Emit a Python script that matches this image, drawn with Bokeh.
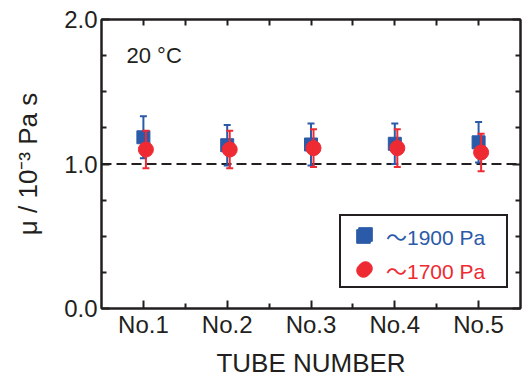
from bokeh.plotting import figure
from bokeh.models import (Range1d, FixedTicker, LinearAxis, Span, Label, Legend,
                          LegendItem, ColumnDataSource)
from bokeh.transform import dodge
from bokeh.embed import file_html
from bokeh.resources import INLINE

# ---- data ----
tubes = [1, 2, 3, 4, 5]
tube_labels = ["No.1", "No.2", "No.3", "No.4", "No.5"]
blue_mu = [1.185, 1.13, 1.135, 1.14, 1.15]
blue_err = [0.145, 0.14, 0.145, 0.14, 0.14]
red_mu = [1.10, 1.10, 1.11, 1.11, 1.08]
red_err = [0.13, 0.13, 0.13, 0.13, 0.13]
y_major = [0, 1, 2]
y_labels = ["0.0", "1.0", "2.0"]
y_minor = [0.25, 0.5, 0.75, 1.25, 1.5, 1.75]
x_minor = [1.5, 2.5, 3.5, 4.5]
ref_level = 1.0

BLUE = "#2b5aa8"
RED = "#ee2a33"
INK = "#231f20"
FONT = "Liberation Sans"
LFONT = "Liberation Sans, Noto Sans CJK JP"

blue_src = ColumnDataSource(dict(x=tubes, y=blue_mu,
                                 lo=[m - e for m, e in zip(blue_mu, blue_err)],
                                 hi=[m + e for m, e in zip(blue_mu, blue_err)]))
red_src = ColumnDataSource(dict(x=tubes, y=red_mu,
                                lo=[m - e for m, e in zip(red_mu, red_err)],
                                hi=[m + e for m, e in zip(red_mu, red_err)]))

p = figure(frame_width=419, frame_height=289, output_backend="svg", toolbar_location=None,
           x_range=Range1d(0.5, 5.5), y_range=Range1d(0, 2),
           min_border_left=101, min_border_right=2, min_border_top=19, min_border_bottom=68)
p.grid.visible = False
p.outline_line_color = INK
p.outline_line_width = 2
p.outline_line_alpha = 1
p.background_fill_color = "white"
p.border_fill_color = "white"

def style_axis(ax):
    ax.axis_line_color = INK
    ax.axis_line_width = 2
    ax.major_tick_line_color = INK
    ax.minor_tick_line_color = INK
    ax.major_tick_line_width = 2
    ax.minor_tick_line_width = 2
    ax.major_tick_in = 8
    ax.major_tick_out = 0
    ax.minor_tick_in = 5
    ax.minor_tick_out = 0
    ax.major_label_text_font = FONT
    ax.major_label_text_font_size = "24px"
    ax.major_label_text_color = INK
    ax.axis_label_text_font = FONT
    ax.axis_label_text_font_size = "26px"
    ax.axis_label_text_font_style = "normal"
    ax.axis_label_text_color = INK

xt = FixedTicker(ticks=tubes, minor_ticks=x_minor)
yt = FixedTicker(ticks=y_major, minor_ticks=y_minor)

xa = p.xaxis[0]
xa.ticker = xt
xa.major_label_overrides = {t: l for t, l in zip(tubes, tube_labels)}
xa.axis_label = "TUBE NUMBER"
style_axis(xa)
xa.major_label_standoff = 2
xa.axis_label_standoff = 7

ya = p.yaxis[0]
ya.ticker = yt
ya.major_label_overrides = {t: l for t, l in zip(y_major, y_labels)}
ya.axis_label = "μ / 10⁻³ Pa s"
style_axis(ya)
ya.major_label_standoff = 4
ya.axis_label_standoff = 18

top = LinearAxis(ticker=xt)
style_axis(top)
top.major_label_overrides = {t: "" for t in tubes}
top.major_label_standoff = 0
top.minor_tick_in = 6
top.major_tick_in = 6
p.add_layout(top, "above")

right = LinearAxis(ticker=yt)
style_axis(right)
right.major_label_overrides = {t: "" for t in y_major}
right.major_label_standoff = 0
p.add_layout(right, "right")

# reference dashed line
p.add_layout(Span(location=ref_level, dimension="width", line_color=INK,
                  line_width=2, line_dash="10 5", level="underlay"))

# blue series
sq = p.scatter("x", "y", source=blue_src, marker="square", size=13,
               fill_color=BLUE, line_color=BLUE)
p.segment(x0="x", y0="lo", x1="x", y1="hi", source=blue_src, line_color=BLUE, line_width=2)
p.scatter("x", "hi", source=blue_src, marker="dash", size=7, line_color=BLUE, line_width=2)
p.scatter("x", "lo", source=blue_src, marker="dash", size=7, line_color=BLUE, line_width=2)

# red series (slightly dodged)
rx = dodge("x", 0.03, range=p.x_range)
ci = p.scatter(rx, "y", source=red_src, marker="circle", size=15,
               fill_color=RED, line_color=RED)
p.segment(x0=rx, y0="lo", x1=rx, y1="hi", source=red_src, line_color=RED, line_width=2)
p.scatter(rx, "hi", source=red_src, marker="dash", size=7, line_color=RED, line_width=2)
p.scatter(rx, "lo", source=red_src, marker="dash", size=7, line_color=RED, line_width=2)

p.add_layout(Label(x=25, y=253, x_units="screen", y_units="screen", text="20 °C",
                   text_font=FONT, text_font_size="22px", text_color=INK,
                   text_baseline="alphabetic"))

# legend: one bordered box, with coloured labels overlaid per row
common = dict(glyph_width=46, glyph_height=34, label_height=34, spacing=0, padding=1,
              label_standoff=0, label_width=117, label_text_font=LFONT,
              label_text_font_size="21px", margin=0)
lx, ly = 238, 20
labA = "～1900 Pa"
labB = "～1700 Pa"
legA = Legend(items=[LegendItem(label=" ", renderers=[sq]),
                     LegendItem(label=" ", renderers=[ci])],
              location=(lx, ly), border_line_color=INK, border_line_width=2,
              border_line_alpha=1,
              background_fill_color="white", background_fill_alpha=1, **common)
legB = Legend(items=[LegendItem(label=labA, renderers=[sq])], location=(lx, ly + 34),
              border_line_alpha=0, background_fill_alpha=0, label_text_color=BLUE, **common)
legC = Legend(items=[LegendItem(label=labB, renderers=[ci])], location=(lx, ly),
              border_line_alpha=0, background_fill_alpha=0, label_text_color=RED, **common)
p.add_layout(legA)
p.add_layout(legB)
p.add_layout(legC)

open("out.html", "w").write(file_html(p, INLINE))
